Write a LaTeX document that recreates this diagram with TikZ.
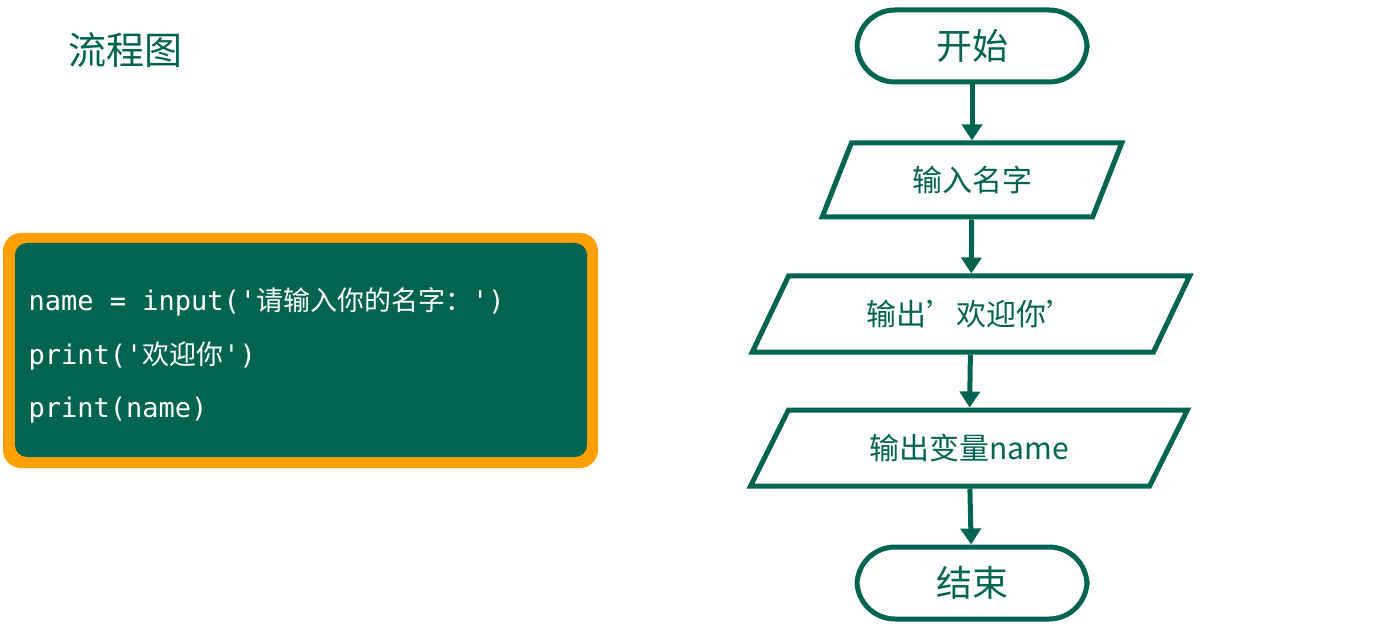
\documentclass[tikz,border=0pt]{standalone}
\usepackage{fontspec}
\setmainfont{Noto Sans CJK SC}
\setmonofont{DejaVu Sans Mono}
\newfontfamily\cjk{Noto Sans CJK SC}
\usetikzlibrary{shapes.geometric,arrows.meta}
\definecolor{deepgreen}{HTML}{006450}
\definecolor{codeorange}{HTML}{FFA000}
\tikzset{
  terminal/.style={draw=deepgreen, line width=5pt, fill=white, rounded corners=38pt,
    minimum width=230pt, minimum height=72pt, text=deepgreen, font=\fontsize{36}{40}\selectfont},
  iobox/.style={trapezium, trapezium stretches=true, draw=deepgreen, line width=5pt, fill=white,
    text=deepgreen, font=\fontsize{30}{34}\selectfont},
  flow/.style={draw=deepgreen, line width=5pt, -{Triangle[length=16pt,width=20pt]}},
  codeline/.style={anchor=west, text=white, font=\ttfamily\fontsize{27}{30}\selectfont}
}
\begin{document}
\begin{tikzpicture}[x=1pt,y=1pt]
\useasboundingbox (0,0) rectangle (1374,-639);
% title
\node[text=deepgreen, font=\fontsize{38}{42}\selectfont] (title) at (125,-50) {流程图};
% code panel
\node[fill=codeorange, rounded corners=18pt, minimum width=595pt, minimum height=235pt] (frame) at (300.5,-350.5) {};
\node[fill=deepgreen, rounded corners=12pt, minimum width=572pt, minimum height=214pt] (panel) at (301,-350) {};
\node[codeline] (l1) at (25,-302) {name = input('{\cjk 请输入你的名字：}')};
\node[codeline] (l2) at (25,-356) {print('{\cjk 欢迎你}')};
\node[codeline] (l3) at (25,-410) {print(name)};
% flowchart
\node[terminal] (start) at (972,-46) {开始};
\node[iobox, trapezium left angle=66, trapezium right angle=114,
  minimum width=300pt, minimum height=74pt] (in) at (972,-180) {输入名字};
\node[iobox, trapezium left angle=58, trapezium right angle=122,
  minimum width=438pt, minimum height=76pt] (out1) at (971,-314) {输出'欢迎你'};
\node[iobox, trapezium left angle=58, trapezium right angle=122,
  minimum width=438pt, minimum height=76pt] (out2) at (969,-448) {输出变量name};
\node[terminal] (stop) at (972,-583) {结束};
\draw[flow] (start) -- (in);
\draw[flow] (in) -- (out1);
\draw[flow] (out1) -- (out2);
\draw[flow] (out2) -- (stop);
\end{tikzpicture}
\end{document}
